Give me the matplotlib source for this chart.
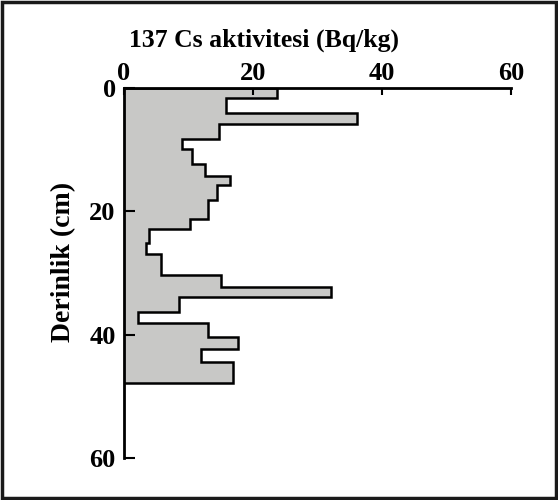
import matplotlib
matplotlib.use("Agg")
import matplotlib.pyplot as plt
from matplotlib.patches import Rectangle

# Depth interval boundaries (cm) and 137Cs activity per interval (Bq/kg)
depth_edges = [0, 1.6, 4.05, 5.8, 8.3, 9.9, 12.3, 14.2, 15.8, 18.1, 21.2, 22.9,
               25.1, 26.9, 30.4, 32.3, 33.9, 36.4, 38.1, 40.4, 42.3, 44.5, 47.8]
activity = [23.7, 15.8, 36.1, 14.7, 9.0, 10.6, 12.5, 16.4, 14.4, 13.1, 10.2,
            3.9, 3.4, 5.7, 15.1, 32.1, 8.6, 2.2, 13.1, 17.6, 11.9, 16.9]
x_ticks = [0, 20, 40, 60]
y_ticks = [0, 20, 40, 60]

plt.rcParams["font.family"] = ["Liberation Serif", "DejaVu Serif"]
plt.rcParams["font.weight"] = "bold"

fig = plt.figure(figsize=(5.58, 5.0), dpi=100)
ax = fig.add_axes([124 / 558, 1 - 458 / 500, 387 / 558, 370 / 500])

ax.stairs(activity, depth_edges, orientation="horizontal", baseline=0,
          fill=True, facecolor="#c8c8c6", edgecolor="none", zorder=1)
ax.stairs(activity, depth_edges, orientation="horizontal", baseline=0,
          fill=False, color="black", linewidth=1.8, zorder=2)

ax.set_xlim(0, 60)
ax.set_ylim(60, 0)

ax.xaxis.tick_top()
ax.set_xticks(x_ticks)
ax.set_yticks(y_ticks)
ax.tick_params(axis="x", direction="in", length=5, width=1.5, pad=2,
               labelsize=19)
ax.tick_params(axis="y", direction="in", length=8, width=1.5, pad=6,
               labelsize=19)
for lbl in ax.get_xticklabels() + ax.get_yticklabels():
    lbl.set_fontweight("bold")

for side in ("right", "bottom"):
    ax.spines[side].set_visible(False)
for side in ("top", "left"):
    ax.spines[side].set_linewidth(2.0)
    ax.spines[side].set_zorder(3)

ax.set_ylabel("Derinlik (cm)", fontsize=20, fontweight="bold")
ax.yaxis.set_label_coords(-0.124, 0.53)
fig.text(264 / 558, 1 - 40 / 500, "137 Cs aktivitesi (Bq/kg)", fontsize=18.5,
         fontweight="bold", ha="center", va="center")

# Frame around the whole figure
fig.patches.append(Rectangle((0.004, 0.004), 0.992, 0.992, transform=fig.transFigure,
                             fill=False, edgecolor="#1a1a1a", linewidth=2.5))

fig.savefig("out.png", dpi=100)
